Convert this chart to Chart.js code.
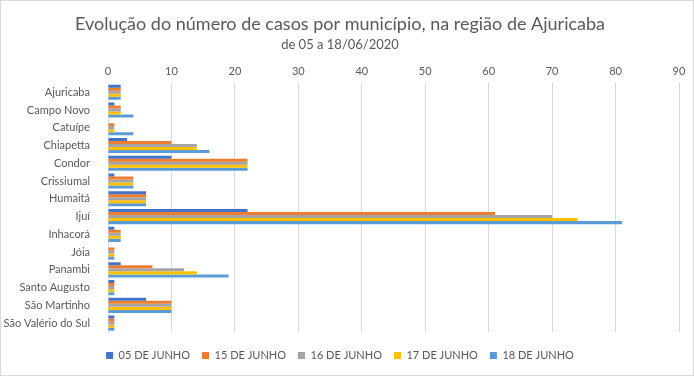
<!DOCTYPE html>
<html>
<head>
<meta charset="utf-8">
<script src="https://cdn.jsdelivr.net/npm/chart.js@4"></script>
<style>
  body { margin: 0; background: #fff; }
  #wrap { position: relative; width: 694px; height: 376px; box-sizing: border-box; border: 1px solid #d9d9d9; }
</style>
</head>
<body>
<div id="wrap"><canvas id="casos-chart" width="692" height="374"></canvas></div>
<script>
const municipios = ['Ajuricaba','Campo Novo','Catuípe','Chiapetta','Condor','Crissiumal','Humaitá','Ijuí','Inhacorá','Jóia','Panambi','Santo Augusto','São Martinho','São Valério do Sul'];
const dias = ['05 DE JUNHO','15 DE JUNHO','16 DE JUNHO','17 DE JUNHO','18 DE JUNHO'];
const jun05 = [2,1,0,3,10,1,6,22,1,0,2,1,6,1];
const jun15 = [2,2,1,10,22,4,6,61,2,1,7,1,10,1];
const jun16 = [2,2,1,14,22,4,6,70,2,1,12,1,10,1];
const jun17 = [2,2,1,14,22,4,6,74,2,1,14,1,10,1];
const jun18 = [2,4,4,16,22,4,6,81,2,1,19,1,10,1];
const xTicks = [0,10,20,30,40,50,60,70,80,90];
const cores = ['#4472C4','#ED7D31','#A5A5A5','#FFC000','#5B9BD5'];

const series = [jun05, jun15, jun16, jun17, jun18];
const font = "Lato, 'Open Sans', sans-serif";

const ctx = document.getElementById('casos-chart').getContext('2d');
const casosChart = new Chart(ctx, {
    type: 'bar',
    data: {
        labels: municipios,
        datasets: series.map((vals, i) => ({
            label: dias[i],
            data: vals,
            backgroundColor: cores[i],
            barPercentage: 1.0,
            categoryPercentage: 0.85
        }))
    },
    options: {
      indexAxis: 'y',
      responsive: false,
      animation: false,
      layout: {
        padding: { left: 0, right: 14, top: 8, bottom: 4 }
      },
      scales: {
          x: {
              position: 'top',
              min: 0,
              max: 90,
              afterBuildTicks: (s) => { s.ticks = xTicks.map(v => ({ value: v })); },
              grid: { color: '#d9d9d9', drawTicks: false },
              border: { display: false },
              ticks: { color: '#595959', font: { family: font, size: 11 }, padding: 5 }
          },
          y: {
              afterFit: (s) => { s.width = 107; },
              grid: { display: false },
              border: { display: true, color: '#d9d9d9' },
              ticks: { color: '#595959', font: { family: font, size: 11 }, padding: 10, autoSkip: false }
          }
      },
      plugins: {
        title: {
          display: true,
          text: 'Evolução do número de casos por município, na região de Ajuricaba',
          color: '#595959',
          font: { family: font, size: 18, weight: 'normal' },
          padding: { top: 4, bottom: 2 }
        },
        subtitle: {
          display: true,
          text: 'de 05 a 18/06/2020',
          color: '#595959',
          font: { family: font, size: 13 },
          padding: { bottom: 8 }
        },
        legend: {
          position: 'bottom',
          title: { display: true, text: ' ', padding: 0, font: { size: 5 } },
          labels: { color: '#595959', boxWidth: 7, boxHeight: 7, padding: 12, font: { family: font, size: 11 } }
        },
        tooltip: { enabled: false }
      }
    }
});
</script>
</body>
</html>
